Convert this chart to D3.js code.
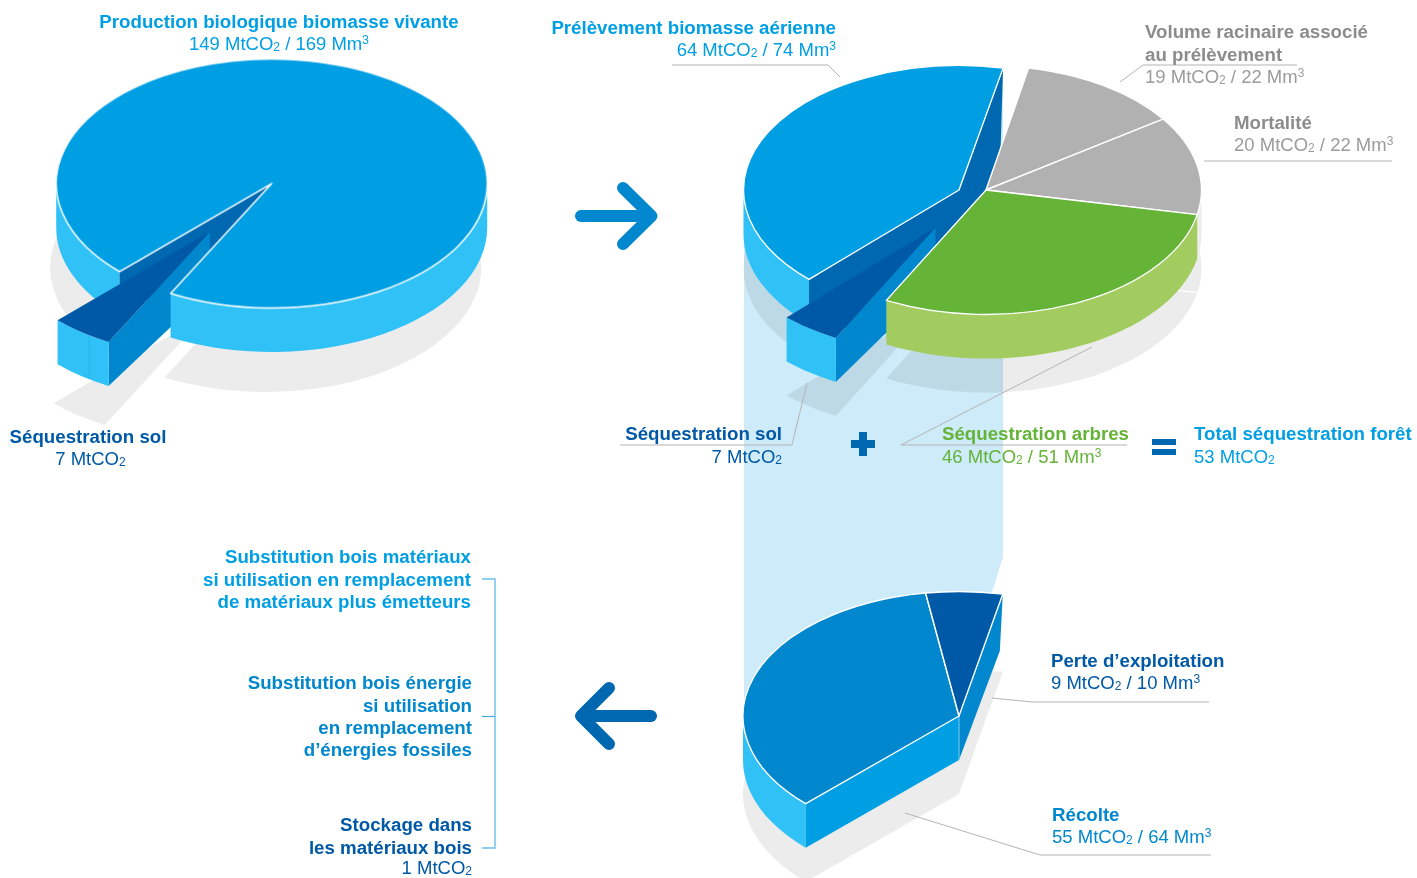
<!DOCTYPE html>
<html lang="fr">
<head>
<meta charset="utf-8">
<title>Flux de carbone en forêt</title>
<script src="https://cdn.jsdelivr.net/npm/d3@7/dist/d3.min.js"></script>
<style>
  html, body { margin: 0; padding: 0; background: #fff; }
  svg { display: block; font-family: "Liberation Sans", Arial, sans-serif; }
  text { font-size: 18.5px; }
  .b { font-weight: bold; font-size: 18.7px; }
</style>
</head>
<body>
<svg id="chart" width="1417" height="878"></svg>
<script>
// ---- Values, in MtCO2 ----
const productionNames = ["Production nette", "Séquestration sol"];
const productionValues = [142, 7];
const fluxNames = ["Volume racinaire", "Mortalité", "Séquestration arbres", "Séquestration sol", "Prélèvement"];
const fluxValues = [19, 20, 46, 7, 64];
const harvestNames = ["Récolte", "Perte d'exploitation"];
const harvestValues = [55, 9];

// ---- Colours ----
const BLUE = "#009fe3", SKY = "#30c1f7", MID = "#0087cd", DEEP = "#0067b1", NAVY = "#0059a6";
const GREEN = "#65b337", GREEN_SIDE = "#a2cb60", GREY = "#b1b1b1", PALE = "#ececec";
const INK_GREY = "#8c8c8c", INK_GREY_LIGHT = "#9b9b9b", RULE = "#b4b4b4";

const svg = d3.select("#chart");
const rad = d => d * Math.PI / 180;

// An extruded pie seen from above: angles in degrees, clockwise from 12 o'clock.
function makeDisc(cx, cy, rx, ry, depth, shadow) {
  const k = ry / rx;
  const at = (deg, off = [0, 0], drop = 0) => [
    cx + rx * Math.sin(rad(deg)) + off[0],
    cy - ry * Math.cos(rad(deg)) + off[1] + drop
  ];
  const top = d3.arc().innerRadius(0).outerRadius(rx);
  return {
    cx, cy, rx, ry, depth, shadow, at,
    // top surface of one slice, drawn by d3.arc and squashed into an ellipse
    slice(parent, a, b, fill, off = [0, 0], stroke = "#fff") {
      return parent.append("path")
        .attr("d", top({ startAngle: rad(a), endAngle: rad(b) }))
        .attr("transform", `translate(${cx + off[0]},${cy + off[1]}) scale(1,${k})`)
        .attr("fill", fill)
        .attr("stroke", stroke)
        .attr("stroke-width", stroke === "none" ? 0 : 1.4)
        .attr("stroke-linejoin", "round")
        .attr("vector-effect", "non-scaling-stroke");
    },
    // outer rim below the arc from a to b, limited to the part facing the viewer
    rim(parent, a, b, fill, off = [0, 0]) {
      const lo = Math.max(a, 90), hi = Math.min(b, 270);
      if (hi <= lo) return;
      const p0 = at(lo, off), p1 = at(hi, off), q1 = at(hi, off, depth), q0 = at(lo, off, depth);
      const rimArc = (to, sweep) => `A${rx},${ry} 0 0 ${sweep} ${to[0]},${to[1]}`;
      parent.append("path")
        .attr("d", `M${p0}${rimArc(p1, 1)}L${q1}${rimArc(q0, 0)}Z`)
        .attr("fill", fill);
    },
    // flat cut face going from the centre out to the rim at angle a
    face(parent, a, fill, off = [0, 0], dropCentre = depth, dropRim = depth) {
      const c = [cx + off[0], cy + off[1]], p = at(a, off);
      parent.append("path")
        .attr("d", d3.line()([c, p, [p[0], p[1] + dropRim], [c[0], c[1] + dropCentre]]) + "Z")
        .attr("fill", fill);
    }
  };
}

// Angular spans of a pie laid out by d3.pie, returned in degrees.
function spans(values, startDeg, endDeg) {
  return d3.pie().sort(null).startAngle(rad(startDeg)).endAngle(rad(endDeg))(values)
    .map(d => ({ a: d.startAngle * 180 / Math.PI, b: d.endAngle * 180 / Math.PI }));
}

const band = svg.append("g");
const shadows = svg.append("g").style("mix-blend-mode", "multiply");
const marks = svg.append("g");

// Pale column linking the harvested share to the lower pie
band.append("path")
  .attr("d", d3.line()([[744, 190], [1003, 67], [1003, 557], [992, 592], [959, 716], [744, 716]]) + "Z")
  .attr("fill", "#cdebf8");

// ---- Upper left pie: biological production ----
(function () {
  const d = makeDisc(271.7, 183.5, 215.5, 124.5, 44, [-6, 84]);
  const [main, soil] = spans(productionValues, 224.9, 584.9);
  const pull = [-62, 48.5], wedgeTipDrop = 58;
  const g = marks.append("g");

  d.slice(shadows, main.a, main.b, PALE, d.shadow, "none");
  d.slice(shadows, soil.a, soil.b, PALE, [pull[0] - 4, pull[1] + 83], "none");

  d.rim(g, main.a, main.a + 90, SKY);
  d.face(g, main.a, DEEP);

  d.face(g, soil.a, MID, pull, wedgeTipDrop);
  d.rim(g, soil.a - 360, soil.b - 360, SKY, pull);
  const s0 = d.at(214, pull), s1 = d.at(214, pull, d.depth);
  g.append("line").attr("x1", s0[0]).attr("y1", s0[1]).attr("x2", s1[0]).attr("y2", s1[1])
    .attr("stroke", "#21b2ea").attr("stroke-width", 0.7);
  d.slice(g, soil.a, soil.b, NAVY, pull, "none");

  d.rim(g, 90, main.b - 360, SKY);
  d.slice(g, main.a, main.b, BLUE);
})();

// ---- Upper right pie: where the production goes ----
(function () {
  const d = makeDisc(986, 190, 215.5, 124.5, 44, [0, 78]);
  const [roots, dead, trees, soil, rawCut] = spans(fluxValues, 11.4, 371.4);
  // The harvested slice sits a little rotated once pulled away from the hub
  const cut = { a: rawCut.a + 0.4, b: rawCut.b + 0.4 };
  const pullCut = [-27, 0], pullSoil = [-50.5, 37.5], wedgeTipDrop = 57;
  const g = marks.append("g");

  [[roots, [0, 0]], [dead, [0, 0]], [trees, [0, 0]], [soil, pullSoil], [cut, pullCut]].forEach(([s, off]) =>
    d.slice(shadows, s.a, s.b, PALE, [off[0], off[1] + d.shadow[1]], "none"));

  // Seam between grey and green, still visible in the shadow
  const sc = [d.cx, d.cy + d.shadow[1]], se = d.at(dead.b, d.shadow);
  d.rim(g, dead.a, dead.b, PALE);
  marks.insert("line", ":first-child").attr("x1", sc[0]).attr("y1", sc[1]).attr("x2", se[0]).attr("y2", se[1])
    .attr("stroke", "#fff").attr("stroke-width", 1.2);

  // Dark core exposed where the harvested slice has been pulled away
  const tip = d.at(cut.b, pullCut), tipEnd = d.at(cut.a, pullCut);
  const hub = [d.cx + pullCut[0], d.cy];
  const greenEnd = d.at(trees.b);
  g.append("path").attr("d", d3.line()([
    tipEnd, hub, tip, [tip[0] - 2.5, tip[1] + 81], [d.cx, d.cy],
    greenEnd, [greenEnd[0], greenEnd[1] + 33], [tipEnd[0], tipEnd[1] + d.depth]
  ]) + "Z").attr("fill", DEEP);

  d.rim(g, cut.a, cut.b, SKY, pullCut);

  d.face(g, soil.a, MID, pullSoil, wedgeTipDrop);
  d.rim(g, soil.a, soil.b, SKY, pullSoil);
  d.slice(g, soil.a, soil.b, NAVY, pullSoil, "none");

  d.rim(g, trees.a, trees.b, GREEN_SIDE);
  d.slice(g, roots.a, roots.b, GREY);
  d.slice(g, dead.a, dead.b, GREY);
  d.slice(g, trees.a, trees.b, GREEN);
  d.slice(g, cut.a, cut.b, BLUE, pullCut);
})();

// ---- Lower pie: the harvested share ----
(function () {
  const d = makeDisc(959, 716, 216, 124.5, 44, [0, 78]);
  const [wood, loss] = spans(harvestValues, 225.2, 371.7);
  const g = marks.append("g");

  d.slice(shadows, wood.a, loss.b, PALE, d.shadow, "none");

  d.rim(g, wood.a, wood.b, SKY);
  d.face(g, wood.a, BLUE);
  // Back cut face, deeper at the rim end than at the hub
  const t = d.at(loss.b);
  g.append("path").attr("d", d3.line()([
    [d.cx, d.cy], t, [t[0] - 3, t[1] + 57], [d.cx, d.cy + d.depth]
  ]) + "Z").attr("fill", MID);
  g.append("line").attr("x1", d.cx).attr("y1", d.cy).attr("x2", d.cx).attr("y2", d.cy + d.depth)
    .attr("stroke", "#9fd8f2").attr("stroke-width", 0.8);
  d.slice(g, wood.a, wood.b, MID);
  d.slice(g, loss.a, loss.b, NAVY);
})();

// ---- Leader rules ----
const rules = [
  [[672, 65], [828, 65], [840, 77]],
  [[1297, 65], [1143, 65], [1120, 82]],
  [[1204, 161], [1392, 161]],
  [[620, 445], [792, 445], [807, 383]],
  [[1127, 445], [901, 445], [1092, 347]],
  [[992, 698], [1032, 702], [1209, 702]],
  [[905, 813], [1040, 855], [1211, 855]]
];
svg.append("g").selectAll("path").data(rules).join("path")
  .attr("d", d3.line()).attr("fill", "none").attr("stroke", RULE).attr("stroke-width", 1);

// ---- Arrows and operators ----
function arrow(points, colour) {
  const g = svg.append("g").attr("fill", "none").attr("stroke", colour)
    .attr("stroke-width", 12).attr("stroke-linecap", "round").attr("stroke-linejoin", "round");
  points.forEach(p => g.append("path").attr("d", d3.line()(p)));
}
arrow([[[581, 216], [650, 216]], [[623, 188], [651.5, 216], [623, 244]]], MID);
arrow([[[651, 716], [585, 716]], [[609, 688], [581, 716], [609, 744]]], DEEP);

svg.append("path").attr("d", "M851,444H875M863,432V456").attr("stroke", DEEP).attr("stroke-width", 8).attr("fill", "none");
svg.append("path").attr("d", "M1152,442H1176M1152,452H1176").attr("stroke", DEEP).attr("stroke-width", 6).attr("fill", "none");

// Bracket tying the three end uses together
svg.append("path").attr("d", "M482,579H495V848H482").attr("fill", "none").attr("stroke", "#6cbdea").attr("stroke-width", 1.4);
svg.append("path").attr("d", "M482,716.5H495").attr("fill", "none").attr("stroke", "#3fa9e0").attr("stroke-width", 1.2);

// ---- Captions ----
// Draws one line of text; the CO2 and m3 indices become small raised or lowered spans.
function caption(x, y, anchor, str, colour, bold) {
  const t = svg.append("text").attr("x", x).attr("y", y).attr("text-anchor", anchor)
    .attr("fill", colour).classed("b", !!bold);
  let shift = 0;
  str.split(/([₂³])/).filter(s => s).forEach(part => {
    const span = t.append("tspan");
    if (part === "₂" || part === "³") {
      const dy = part === "₂" ? 1 : -6;
      span.text(part === "₂" ? "2" : "3").style("font-size", "12px").attr("dy", dy - shift);
      shift = dy;
    } else {
      span.text(part);
      if (shift) { span.attr("dy", -shift); shift = 0; }
    }
  });
}

caption(279, 28, "middle", "Production biologique biomasse vivante", BLUE, true);
caption(279, 50, "middle", "149 MtCO₂ / 169 Mm³", BLUE);
caption(836, 34, "end", "Prélèvement biomasse aérienne", BLUE, true);
caption(836, 56, "end", "64 MtCO₂ / 74 Mm³", BLUE);
caption(1145, 38, "start", "Volume racinaire associé", INK_GREY, true);
caption(1145, 61, "start", "au prélèvement", INK_GREY, true);
caption(1145, 83, "start", "19 MtCO₂ / 22 Mm³", INK_GREY_LIGHT);
caption(1234, 129, "start", "Mortalité", INK_GREY, true);
caption(1234, 151, "start", "20 MtCO₂ / 22 Mm³", INK_GREY_LIGHT);
caption(88, 443, "middle", "Séquestration sol", NAVY, true);
caption(90.5, 465, "middle", "7 MtCO₂", NAVY);
caption(782, 440, "end", "Séquestration sol", NAVY, true);
caption(782, 463, "end", "7 MtCO₂", NAVY);
caption(942, 440, "start", "Séquestration arbres", GREEN, true);
caption(942, 463, "start", "46 MtCO₂ / 51 Mm³", GREEN);
caption(1194, 440, "start", "Total séquestration forêt", BLUE, true);
caption(1194, 463, "start", "53 MtCO₂", BLUE);
caption(471, 563, "end", "Substitution bois matériaux", BLUE, true);
caption(471, 586, "end", "si utilisation en remplacement", BLUE, true);
caption(471, 608, "end", "de matériaux plus émetteurs", BLUE, true);
caption(472, 689, "end", "Substitution bois énergie", MID, true);
caption(472, 712, "end", "si utilisation", MID, true);
caption(472, 734, "end", "en remplacement", MID, true);
caption(472, 756, "end", "d’énergies fossiles", MID, true);
caption(472, 831, "end", "Stockage dans", NAVY, true);
caption(472, 854, "end", "les matériaux bois", NAVY, true);
caption(472, 874, "end", "1 MtCO₂", NAVY);
caption(1051, 667, "start", "Perte d’exploitation", NAVY, true);
caption(1051, 689, "start", "9 MtCO₂ / 10 Mm³", NAVY);
caption(1052, 821, "start", "Récolte", MID, true);
caption(1052, 843, "start", "55 MtCO₂ / 64 Mm³", MID);
</script>
</body>
</html>
